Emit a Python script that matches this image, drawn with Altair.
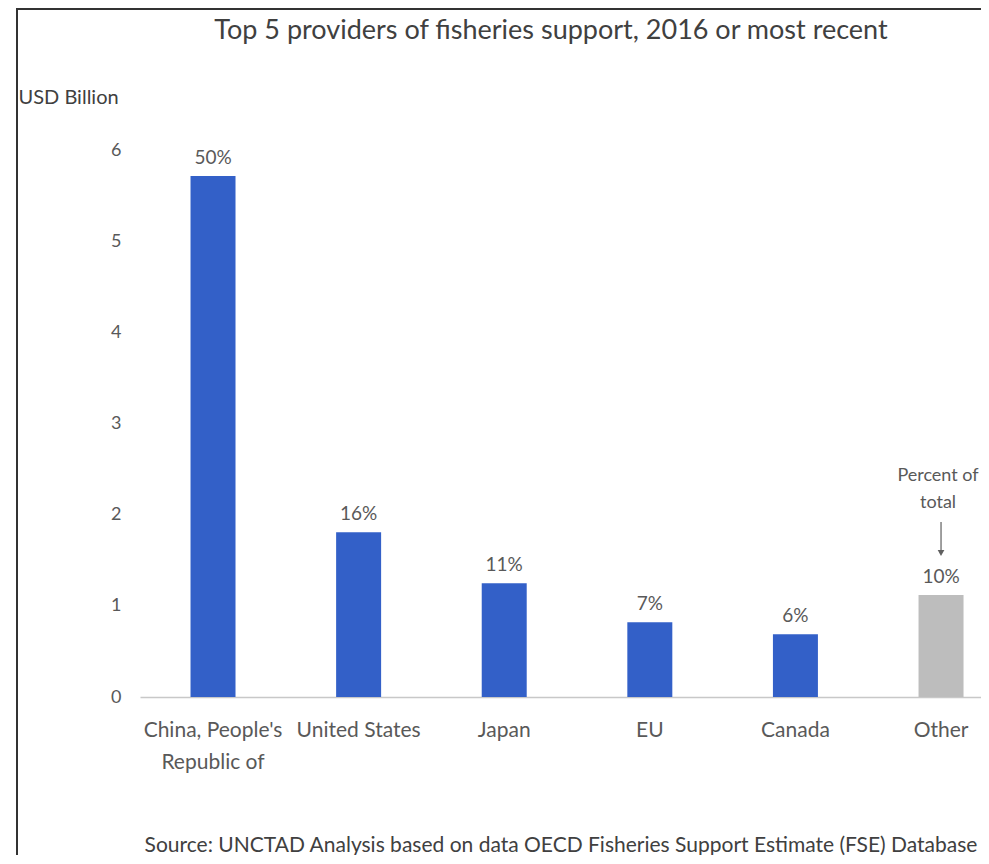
import altair as alt
import pandas as pd

categories = ["China, People's Republic of", "United States", "Japan", "EU", "Canada", "Other"]
values = [5.72, 1.81, 1.25, 0.82, 0.69, 1.12]
percents = ["50%", "16%", "11%", "7%", "6%", "10%"]
groups = ["Top 5", "Top 5", "Top 5", "Top 5", "Top 5", "Other"]
y_ticks = [0, 1, 2, 3, 4, 5, 6]

title_text = "Top 5 providers of fisheries support, 2016 or most recent"
y_title = "USD Billion"
source_text = "Source: UNCTAD Analysis based on data OECD Fisheries Support Estimate (FSE) Database"
note_text = ["Percent of", "total"]

df = pd.DataFrame({"country": categories, "value": values, "pct": percents, "group": groups})
note_df = pd.DataFrame({"country": ["Other"], "value": [values[-1]], "note": [note_text]})
title_df = pd.DataFrame({"t": [title_text]})

FONT = "Lato"
LABEL = "#595959"
DARK = "#404040"

x_enc = alt.X(
    "country:N",
    sort=categories,
    scale=alt.Scale(paddingInner=0.691, paddingOuter=0.2335, align=0.743),
    axis=alt.Axis(
        title=source_text,
        titleFont=FONT,
        titleFontSize=21,
        titleFontWeight="normal",
        titleColor=DARK,
        titleY=154,
        titleBaseline="alphabetic",
        labelAngle=0,
        labelFont=FONT,
        labelFontSize=21,
        labelColor=LABEL,
        labelPadding=22,
        labelLineHeight=32,
        labelLimit=0,
        labelOverlap=False,
        labelExpr="datum.label == \"China, People's Republic of\" ? [\"China, People's\", \"Republic of\"] : datum.label",
        ticks=False,
        domainColor="#C8C8C8",
        domainWidth=1.5,
        grid=False,
    ),
)

y_scale = alt.Scale(domain=[0, 6.5], nice=False)

bars = alt.Chart(df).mark_bar().encode(
    x=x_enc,
    y=alt.Y(
        "value:Q",
        scale=y_scale,
        axis=alt.Axis(
            values=y_ticks,
            format="d",
            title=y_title,
            titleAngle=0,
            titleAlign="left",
            titleBaseline="middle",
            titleX=-122,
            titleY=-8,
            titleFont=FONT,
            titleFontSize=20,
            titleFontWeight="normal",
            titleColor=DARK,
            labelFont=FONT,
            labelFontSize=18,
            labelColor=LABEL,
            labelPadding=19,
            ticks=False,
            domain=False,
            grid=False,
        ),
    ),
    color=alt.Color(
        "group:N",
        scale=alt.Scale(domain=["Top 5", "Other"], range=["#3360C8", "#BDBDBD"]),
        legend=None,
    ),
)

labels = alt.Chart(df).mark_text(
    font=FONT, fontSize=19, color=LABEL, baseline="alphabetic", dy=-12
).encode(x=alt.X("country:N", sort=categories), y=alt.Y("value:Q", scale=y_scale), text="pct:N")

note = alt.Chart(note_df).mark_text(
    font=FONT, fontSize=18, color=LABEL, baseline="alphabetic", dy=-114, dx=-3, lineHeight=27
).encode(x=alt.X("country:N", sort=categories), y=alt.Y("value:Q", scale=y_scale), text="note:N")

arrow_shaft = alt.Chart(note_df).mark_rule(
    color="#606060", strokeWidth=1.2, yOffset=-73, y2Offset=-45
).encode(x=alt.X("country:N", sort=categories), y=alt.Y("value:Q", scale=y_scale), y2="value:Q")

arrow_head = alt.Chart(note_df).mark_point(
    shape="triangle-down", filled=True, color="#606060", size=45, opacity=1, yOffset=-42
).encode(x=alt.X("country:N", sort=categories), y=alt.Y("value:Q", scale=y_scale))

title_mark = alt.Chart(title_df).mark_text(
    font=FONT, fontSize=27, color=DARK, baseline="alphabetic", align="center"
).encode(x=alt.value(411), y=alt.value(-66), text="t:N")

border_df = pd.DataFrame({"k": [0]})
border_left = alt.Chart(border_df).mark_rule(color="#333333", strokeWidth=2).encode(
    x=alt.value(-123), y=alt.value(-96), y2=alt.value(760)
)
border_top = alt.Chart(border_df).mark_rule(color="#333333", strokeWidth=2).encode(
    x=alt.value(-124), x2=alt.value(860), y=alt.value(-96)
)

chart = alt.layer(
    bars, labels, note, arrow_shaft, arrow_head, title_mark, border_left, border_top
).properties(
    width=841,
    height=592,
    autosize=alt.AutoSizeParams(type="none"),
    padding={"left": 132, "top": 97, "right": 0, "bottom": 158},
).configure_view(stroke=None)

chart.save("out.html", embed_options={"renderer": "svg", "actions": False})
